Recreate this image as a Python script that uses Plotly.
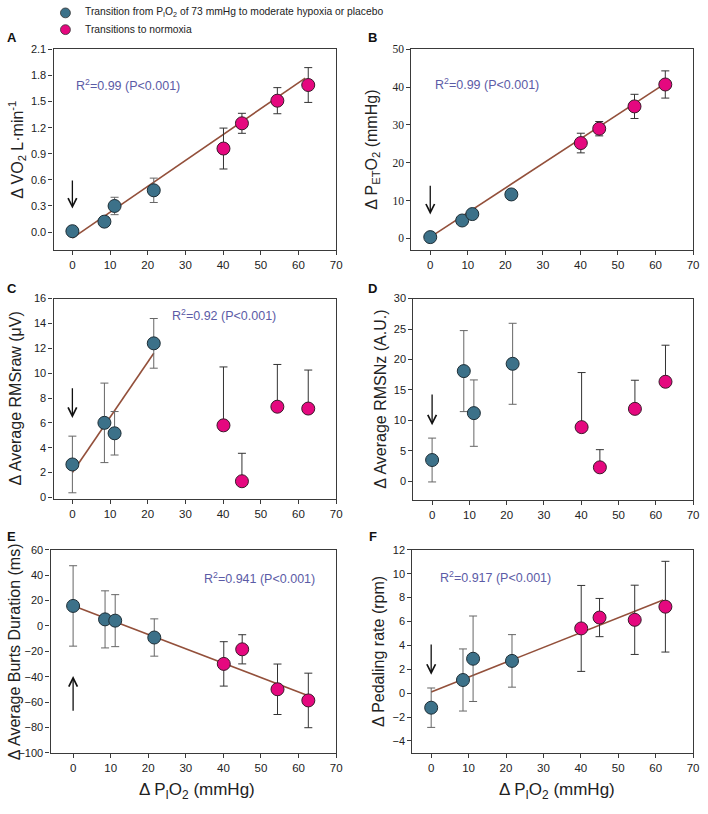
import plotly.graph_objects as go

W, H = 708, 814

# ---------------- data ----------------
x_blue = [0.0, 8.5, 11.2, 21.6]
x_pink = [40.1, 45.0, 54.4, 62.6]
xerr_blue = [0, 0, 1.0, 0]
xerr_pink = [0, 0, 0.8, 0.8]

vo2_blue = [0.01, 0.12, 0.30, 0.48]
vo2_blue_err = [0.0, 0.03, 0.10, 0.14]
vo2_pink = [0.96, 1.25, 1.51, 1.69]
vo2_pink_err = [0.235, 0.115, 0.15, 0.20]

pet_blue = [0.3, 4.7, 6.4, 11.6]
pet_blue_err = [0.0, 0.3, 0.6, 0.3]
pet_pink = [25.2, 29.0, 34.9, 40.7]
pet_pink_err = [2.6, 1.9, 3.2, 3.6]

rms_blue = [2.65, 6.0, 5.16, 12.4]
rms_blue_err = [2.28, 3.2, 1.75, 2.0]
rms_pink = [5.8, 1.3, 7.3, 7.15]
rms_pink_err = [4.7, 2.25, 3.4, 3.1]

rmsnz_blue = [3.5, 18.1, 11.2, 19.3]
rmsnz_blue_err = [3.6, 6.65, 5.45, 6.65]
rmsnz_pink = [8.9, 2.3, 11.9, 16.35]
rmsnz_pink_err = [8.96, 2.9, 4.7, 6.0]

burst_blue = [15.8, 5.2, 4.2, -9.1]
burst_blue_err = [31.7, 22.5, 20.5, 14.7]
burst_pink = [-29.9, -18.4, -49.9, -58.7]
burst_pink_err = [17.5, 11.5, 19.9, 21.5]

ped_blue = [-1.22, 1.1, 2.88, 2.7]
ped_blue_err = [1.65, 2.6, 3.58, 2.2]
ped_pink = [5.42, 6.33, 6.14, 7.24]
ped_pink_err = [3.6, 1.6, 2.9, 3.8]

fit_vo2_x, fit_vo2_y = [0, 61.8], [-0.07, 1.77]
fit_pet_x, fit_pet_y = [0, 62.0], [0.3, 40.6]
fit_rms_x, fit_rms_y = [0, 21.6], [2.0, 11.6]
fit_burst_x, fit_burst_y = [0, 62.6], [16.0, -55.0]
fit_ped_x, fit_ped_y = [0, 62.0], [0.1, 7.8]

x_ticks = [0, 10, 20, 30, 40, 50, 60, 70]

legend_labels = ["Transition from P<sub>I</sub>O<sub>2</sub> of 73 mmHg to moderate hypoxia or placebo",
                 "Transitions to normoxia"]

# ---------------- style ----------------
BLUE = "#3c7189"
PINK = "#e5087f"
LINE = "#93503b"
RCOL = "#5b5ba6"
FONT = "Liberation Sans, Arial, sans-serif"

# panel boxes in pixels: (left, right, top, bottom)
boxes = [
    (54, 339, 44, 248),
    (415, 699, 44, 248),
    (54, 339, 297, 500),
    (417, 699, 297, 501),
    (51, 339, 552, 758),
    (416, 699, 552, 758),
]
letter_pos = [(12, 32), (376, 32), (12, 287), (376, 287), (12, 538), (376, 538)]

panels = [
    dict(letter="A", blue=vo2_blue, be=vo2_blue_err, pink=vo2_pink, pe=vo2_pink_err, up_only=False,
         fit=(fit_vo2_x, fit_vo2_y), yr=[-0.21, 2.1], dt=0.3, t0=0.0, fmt=".1f", xr=[-5, 70],
         ytitle="Δ VO<sub>2</sub> L·min<sup>-1</sup>", ytx=17, r2="R<sup>2</sup>=0.99 (P<0.001)", r2xy=(0.3, 1.69),
         arrow=(0.27, 0.61), serif=False),
    dict(letter="B", blue=pet_blue, be=pet_blue_err, pink=pet_pink, pe=pet_pink_err, up_only=False,
         fit=(fit_pet_x, fit_pet_y), yr=[-3.2, 50], dt=10, t0=0, fmt="d", xr=[-5, 70],
         ytitle="Δ P<sub>ET</sub>O<sub>2</sub> (mmHg)", ytx=376, r2="R<sup>2</sup>=0.99 (P<0.001)", r2xy=(0.8, 40.8),
         arrow=(6.3, 14.3), serif=True),
    dict(letter="C", blue=rms_blue, be=rms_blue_err, pink=rms_pink, pe=rms_pink_err, up_only=True,
         fit=(fit_rms_x, fit_rms_y), yr=[-0.1, 16], dt=2, t0=0, fmt="d", xr=[-5, 70],
         ytitle="Δ Average RMSraw (μV)", ytx=16, r2="R<sup>2</sup>=0.92 (P<0.001)", r2xy=(25.8, 14.7),
         arrow=(6.4, 8.9), serif=False),
    dict(letter="D", blue=rmsnz_blue, be=rmsnz_blue_err, pink=rmsnz_pink, pe=rmsnz_pink_err, up_only=True,
         fit=None, yr=[-3, 30], dt=5, t0=0, fmt="d", xr=[-5, 70],
         ytitle="Δ Average RMSNz (A.U.)", ytx=383, r2=None, r2xy=None,
         arrow=(9.2, 14.5), serif=False),
    dict(letter="E", blue=burst_blue, be=burst_blue_err, pink=burst_pink, pe=burst_pink_err, up_only=False,
         fit=(fit_burst_x, fit_burst_y), yr=[-100, 60], dt=20, t0=-100, fmt="d", xr=[-6, 70],
         ytitle="Δ Average Burts Duration (ms)", ytx=14, r2="R<sup>2</sup>=0.941 (P<0.001)", r2xy=(34.2, 37.6),
         arrow=(-39.5, -68), serif=False),
    dict(letter="F", blue=ped_blue, be=ped_blue_err, pink=ped_pink, pe=ped_pink_err, up_only=False,
         fit=(fit_ped_x, fit_ped_y), yr=[-5, 12], dt=2, t0=-4, fmt="d", xr=[-5, 70],
         ytitle="Δ Pedaling rate (rpm)", ytx=382, r2="R<sup>2</sup>=0.917 (P<0.001)", r2xy=(1.8, 9.7),
         arrow=(1.54, 4.2), serif=False),
]

fig = go.Figure()
annotations = []
shapes = []
layout = {}


def px(x):
    return x / W


def py(y):
    return 1 - y / H


for i, (p, box) in enumerate(zip(panels, boxes)):
    n = "" if i == 0 else str(i + 1)
    xa, ya = "x" + n, "y" + n
    l, r, t, b = box
    axis_common = dict(showline=True, mirror=True, linecolor="#3a3a3a", linewidth=1.3,
                       ticks="outside", ticklen=4, tickcolor="#3a3a3a", tickwidth=1,
                       showgrid=False, zeroline=False)
    layout["xaxis" + n] = dict(domain=[px(l), px(r)], anchor=ya, range=p["xr"],
                               tickvals=x_ticks, tickfont=dict(family=FONT, size=11.5, color="#222"),
                               **axis_common)
    yt = []
    v = p["t0"]
    while v <= p["yr"][1] + 1e-9:
        yt.append(round(v, 4))
        v += p["dt"]
    layout["yaxis" + n] = dict(domain=[py(b), py(t)], anchor=xa, range=p["yr"], tickvals=yt,
                               tickformat=p["fmt"],
                               tickfont=dict(family=("Liberation Serif, Times New Roman, serif" if p["serif"] else FONT),
                                             size=11.5 if p["serif"] else 11, color="#222"),
                               **axis_common)
    if p["fit"] is not None:
        fig.add_trace(go.Scatter(x=p["fit"][0], y=p["fit"][1], mode="lines",
                                 line=dict(color=LINE, width=1.6), xaxis=xa, yaxis=ya,
                                 showlegend=False, hoverinfo="skip"))
    # blue series
    fig.add_trace(go.Scatter(
        x=x_blue, y=p["blue"], mode="markers", xaxis=xa, yaxis=ya,
        name=legend_labels[0], showlegend=False,
        marker=dict(color=BLUE, size=13, line=dict(color="#1e2e36", width=1)),
        error_y=dict(type="data", array=p["be"], color="#666", thickness=1, width=4),
        error_x=dict(type="data", array=xerr_blue, color="#555", thickness=1, width=3),
    ))
    if p["up_only"]:
        ey = dict(type="data", symmetric=False, array=p["pe"], arrayminus=[0] * len(p["pe"]),
                  color="#333", thickness=1, width=4)
    else:
        ey = dict(type="data", array=p["pe"], color="#333", thickness=1, width=4)
    fig.add_trace(go.Scatter(
        x=x_pink, y=p["pink"], mode="markers", xaxis=xa, yaxis=ya,
        name=legend_labels[1], showlegend=False,
        marker=dict(color=PINK, size=13, line=dict(color="#3a1a2a", width=1)),
        error_y=ey,
        error_x=dict(type="data", array=xerr_pink, color="#333", thickness=1, width=3),
    ))
    # panel letter
    lx, ly = letter_pos[i]
    annotations.append(dict(text="<b>" + p["letter"] + "</b>", x=px(lx), y=py(ly), xref="paper", yref="paper",
                            showarrow=False, xanchor="center", yanchor="middle",
                            font=dict(family=FONT, size=13, color="#111")))
    # y title
    annotations.append(dict(text=p["ytitle"], x=px(p["ytx"]), y=py((t + b) / 2), xref="paper", yref="paper",
                            showarrow=False, textangle=-90, xanchor="center", yanchor="middle",
                            font=dict(family=FONT, size=16, color="#222")))
    # R2 text
    if p["r2"]:
        annotations.append(dict(text=p["r2"], x=p["r2xy"][0], y=p["r2xy"][1], xref=xa, yref=ya,
                                showarrow=False, xanchor="left", yanchor="middle",
                                font=dict(family=FONT, size=12.5, color=RCOL)))
    # arrow
    tip, tail = p["arrow"]
    annotations.append(dict(x=0, y=tip, ax=0, ay=tail, xref=xa, yref=ya, axref=xa, ayref=ya,
                            showarrow=True, arrowhead=5, arrowsize=1.3, arrowwidth=1.3,
                            arrowcolor="#111", text=""))

# x-axis titles for bottom panels
for i in (4, 5):
    l, r, t, b = boxes[i]
    annotations.append(dict(text="Δ P<sub>I</sub>O<sub>2</sub> (mmHg)", x=px((l + r) / 2 + 4), y=py(797),
                            xref="paper", yref="paper", showarrow=False, xanchor="center", yanchor="middle",
                            font=dict(family=FONT, size=17, color="#222")))

# manual legend (top-left)
legend_colors = [BLUE, PINK]
legend_rows = [7, 24]
for lab, col, yy in zip(legend_labels, legend_colors, legend_rows):
    shapes.append(dict(type="circle", xref="paper", yref="paper",
                       x0=px(61), x1=px(71), y0=py(yy + 5), y1=py(yy - 5),
                       fillcolor=col, line=dict(color="#333", width=0.8)))
    annotations.append(dict(text=lab, x=px(84), y=py(yy), xref="paper", yref="paper", showarrow=False,
                            xanchor="left", yanchor="middle", font=dict(family=FONT, size=10.3, color="#222")))

fig.update_layout(
    width=W, height=H,
    margin=dict(l=0, r=0, t=0, b=0),
    paper_bgcolor="white", plot_bgcolor="white",
    showlegend=False,
    annotations=annotations,
    shapes=shapes,
    **layout,
)

fig.write_html("out.html", config={"displayModeBar": False},
               post_script="document.body.style.margin='0';")
